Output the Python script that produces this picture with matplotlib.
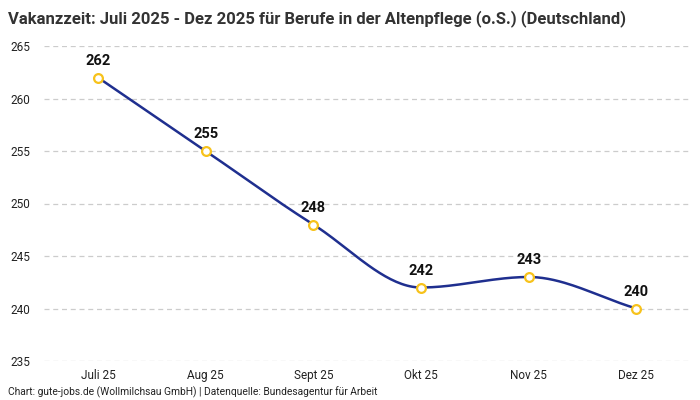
import numpy as np
import matplotlib.pyplot as plt

plt.rcParams['font.family'] = ['Roboto', 'DejaVu Sans']

# --- Daten ---
monate = ["Juli 25", "Aug 25", "Sept 25", "Okt 25", "Nov 25", "Dez 25"]
vakanzzeit = [262, 255, 248, 242, 243, 240]

titel = "Vakanzzeit: Juli 2025 - Dez 2025 für Berufe in der Altenpflege (o.S.) (Deutschland)"
quelle = "Chart: gute-jobs.de (Wollmilchsau GmbH) | Datenquelle: Bundesagentur für Arbeit"


def monotone_kurve(x, y, n=40):
    # monotone kubische Interpolation (Fritsch-Carlson) für die glatte Linie
    x = np.asarray(x, float)
    y = np.asarray(y, float)
    h = np.diff(x)
    d = np.diff(y) / h
    m = np.zeros_like(y)
    m[0], m[-1] = d[0], d[-1]
    for i in range(1, len(y) - 1):
        if d[i - 1] * d[i] <= 0:
            m[i] = 0
        else:
            w1 = 2 * h[i] + h[i - 1]
            w2 = h[i] + 2 * h[i - 1]
            m[i] = (w1 + w2) / (w1 / d[i - 1] + w2 / d[i])
    xs, ys = [], []
    for i in range(len(y) - 1):
        t = np.linspace(0, 1, n)
        h00 = 2 * t**3 - 3 * t**2 + 1
        h10 = t**3 - 2 * t**2 + t
        h01 = -2 * t**3 + 3 * t**2
        h11 = t**3 - t**2
        xs.append(x[i] + t * h[i])
        ys.append(h00 * y[i] + h10 * h[i] * m[i] + h01 * y[i + 1] + h11 * h[i] * m[i + 1])
    return np.concatenate(xs), np.concatenate(ys)


x = np.arange(len(monate))
kx, ky = monotone_kurve(x, vakanzzeit)

fig = plt.figure(figsize=(7, 4), dpi=100)
ax = fig.add_axes([0.063, 0.0975, 0.923, 0.7875])

ax.plot(kx, ky, color="#1f2f8f", linewidth=1.8, zorder=3)
ax.scatter(x, vakanzzeit, s=40, facecolor="white", edgecolor="#f7c21b",
           linewidth=1.6, zorder=4)

for xi, yi in zip(x, vakanzzeit):
    ax.annotate(str(yi), (xi, yi), xytext=(0, 7), textcoords="offset points",
                ha="center", va="bottom", fontsize=10.5, fontweight="bold",
                color="#111111")

ax.set_xlim(-0.5, len(monate) - 0.5)
ax.set_ylim(235, 265)
ax.set_yticks(range(235, 266, 5))
ax.set_xticks(x)
ax.set_xticklabels(monate)
ax.grid(axis="y", linestyle=(0, (4, 3)), color="#cccccc", linewidth=0.9)
ax.set_axisbelow(True)
for s in ax.spines.values():
    s.set_visible(False)
ax.tick_params(axis="both", length=0, labelsize=8.5, colors="#222222")
ax.tick_params(axis="y", pad=10)
ax.tick_params(axis="x", pad=6)

fig.text(0.012, 0.975, titel, fontsize=12, fontweight="bold", color="#333333",
         ha="left", va="top")
fig.text(0.012, 0.004, quelle, fontsize=7.4, color="#222222", ha="left", va="bottom")

fig.savefig("out.png", dpi=100)
